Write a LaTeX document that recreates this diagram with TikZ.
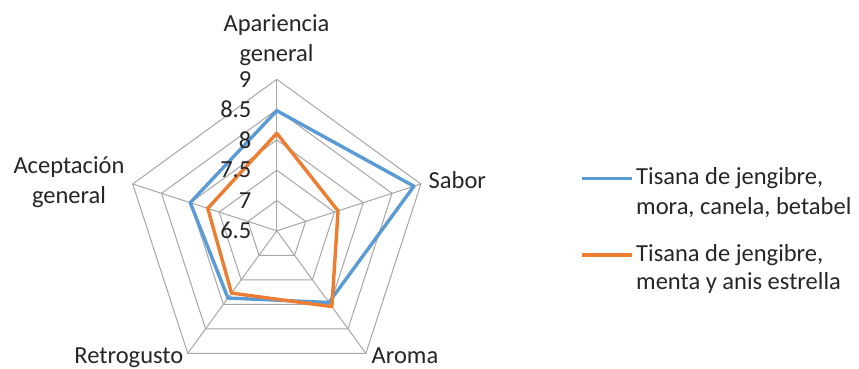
\documentclass[tikz,border=0pt]{standalone}
\usepackage{fontspec}
\setmainfont{Carlito}
\definecolor{gridgray}{RGB}{166,166,166}
\definecolor{serblue}{RGB}{91,155,213}
\definecolor{serorange}{RGB}{237,125,49}
\begin{document}
\begin{tikzpicture}[x=1pt,y=1pt,
  gridline/.style={draw=gridgray, line width=1pt},
  series/.style={line width=3.4pt, line join=round},
  lbl/.style={font=\fontsize{24.5}{30}\selectfont, inner sep=0pt, text=black!85},
]
\useasboundingbox (0,0) rectangle (859,369);
\fill[white] (0,0) rectangle (859,369);
\begin{scope}[shift={(276.8,138.2)}]
  \coordinate (O) at (0,0);
  % rings
  \foreach \k in {1,...,5} {
    \draw[gridline] (90:{30.3*\k}) -- (18:{30.3*\k}) -- (-54:{30.3*\k}) -- (-126:{30.3*\k}) -- (162:{30.3*\k}) -- cycle;
  }
  % spokes
  \foreach \a/\n in {90/vA,18/vS,-54/vR,-126/vT,162/vC} {
    \coordinate (\n) at (\a:151.5);
    \draw[gridline] (O) -- (\n);
  }
  % series
  \draw[series, serblue] (90:120.1) -- (18:144.2) -- (-54:88.6) -- (-126:83.1) -- (162:91) -- cycle;
  \draw[series, serorange] (90:97.5) -- (18:64.4) -- (-54:93.7) -- (-126:77) -- (162:72.6) -- cycle;
  % tick labels
  \foreach \k/\t in {0/6.5,1/7,2/7.5,3/8,4/8.5,5/9} {
    \node[lbl, anchor=east] (tick\k) at (-25.3,{30.3*\k}) {\t};
  }
\end{scope}
% axis labels
\node[lbl, anchor=base] (apa1) at (276.5,337) {Apariencia};
\node[lbl, anchor=base] (apa2) at (276.5,307) {general};
\node[lbl, anchor=base west] (sab) at (428.5,180.5) {Sabor};
\node[lbl, anchor=base west] (aro) at (371.5,5.5) {Aroma};
\node[lbl, anchor=base east] (ret) at (183.5,5.5) {Retrogusto};
\node[lbl, anchor=base] (ace1) at (69,195.7) {Aceptación};
\node[lbl, anchor=base] (ace2) at (69,165.7) {general};
% legend
\coordinate (lb1) at (581.7,190.7);
\coordinate (lb2) at (631.7,190.7);
\draw[series, serblue, line width=3.2pt] (lb1) -- (lb2);
\node[lbl, anchor=base west] (leg1a) at (636,184) {Tisana de jengibre,};
\node[lbl, anchor=base west] (leg1b) at (636,154) {mora, canela, betabel};
\coordinate (lo1) at (581.7,114);
\coordinate (lo2) at (631.7,114);
\draw[series, serorange, line width=3.2pt] (lo1) -- (lo2);
\node[lbl, anchor=base west] (leg2a) at (636,107.3) {Tisana de jengibre,};
\node[lbl, anchor=base west] (leg2b) at (636,79) {menta y anis estrella};
\end{tikzpicture}
\end{document}
